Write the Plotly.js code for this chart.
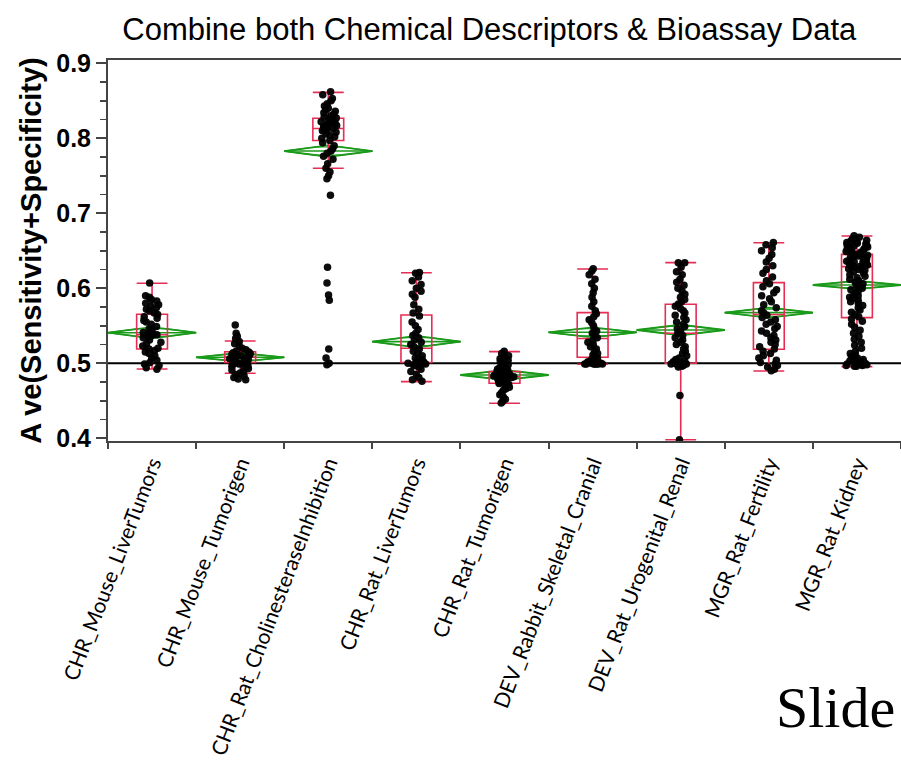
<!DOCTYPE html>
<html>
<head>
<meta charset="utf-8">
<script src="https://cdn.plot.ly/plotly-3.0.1.min.js"></script>
<style>html,body{margin:0;padding:0;background:#fff;}#chart{width:901px;height:768px;}</style>
</head>
<body>
<div id="chart"></div>
<script>
// ---- categories ----
var categories = ["CHR_Mouse_LiverTumors", "CHR_Mouse_Tumorigen", "CHR_Rat_CholinesteraseInhibition",
  "CHR_Rat_LiverTumors", "CHR_Rat_Tumorigen", "DEV_Rabbit_Skeletal_Cranial",
  "DEV_Rat_Urogenital_Renal", "MGR_Rat_Fertility", "MGR_Rat_Kidney"];

var chrMouseLiver = [0.607,0.590,0.588,0.585,0.583,0.580,0.578,0.576,0.574,0.572,0.570,0.567,0.565,0.562,0.560,0.557,0.555,0.552,0.549,0.546,0.543,0.541,0.540,0.539,0.538,0.537,0.536,0.534,0.531,0.528,0.526,0.523,0.520,0.519,0.517,0.515,0.513,0.510,0.507,0.504,0.501,0.499,0.497,0.494,0.492];
var chrMouseTumor = [0.551,0.540,0.536,0.533,0.529,0.526,0.523,0.520,0.518,0.516,0.515,0.514,0.513,0.512,0.511,0.510,0.509,0.508,0.507,0.506,0.505,0.504,0.503,0.502,0.501,0.500,0.499,0.498,0.497,0.496,0.495,0.493,0.491,0.489,0.487,0.485,0.483,0.481,0.479,0.478];
var chrRatChol = [0.862,0.858,0.853,0.850,0.846,0.843,0.840,0.838,0.836,0.834,0.832,0.830,0.829,0.828,0.827,0.826,0.825,0.824,0.823,0.822,0.821,0.820,0.819,0.818,0.817,0.816,0.815,0.814,0.813,0.812,0.811,0.810,0.808,0.806,0.804,0.802,0.800,0.797,0.794,0.790,0.786,0.783,0.780,0.776,0.772,0.766,0.760,0.755,0.750,0.746,0.724,0.628,0.607,0.591,0.584,0.519,0.507,0.500,0.498];
var chrRatLiver = [0.621,0.620,0.615,0.610,0.605,0.600,0.596,0.592,0.588,0.578,0.572,0.567,0.563,0.555,0.550,0.545,0.540,0.537,0.534,0.531,0.528,0.525,0.522,0.519,0.516,0.513,0.510,0.507,0.505,0.503,0.502,0.501,0.500,0.500,0.499,0.499,0.498,0.497,0.495,0.492,0.489,0.485,0.481,0.478,0.476];
var chrRatTumor = [0.516,0.513,0.510,0.508,0.506,0.504,0.502,0.500,0.498,0.496,0.495,0.494,0.493,0.492,0.491,0.490,0.489,0.488,0.487,0.486,0.486,0.485,0.485,0.484,0.484,0.483,0.483,0.482,0.482,0.481,0.481,0.480,0.479,0.478,0.477,0.476,0.475,0.474,0.473,0.472,0.470,0.468,0.466,0.464,0.461,0.458,0.455,0.452,0.449,0.447];
var devRabbit = [0.626,0.623,0.618,0.612,0.606,0.600,0.594,0.588,0.582,0.576,0.570,0.566,0.562,0.558,0.554,0.550,0.546,0.543,0.540,0.537,0.534,0.531,0.528,0.525,0.522,0.519,0.516,0.513,0.511,0.509,0.507,0.505,0.504,0.503,0.502,0.501,0.500,0.500,0.499,0.499,0.499,0.499,0.499,0.499,0.499];
var devRatUro = [0.634,0.634,0.628,0.622,0.618,0.612,0.608,0.604,0.600,0.596,0.592,0.588,0.585,0.582,0.579,0.576,0.573,0.570,0.567,0.564,0.561,0.558,0.555,0.552,0.549,0.546,0.543,0.540,0.537,0.534,0.531,0.528,0.525,0.522,0.519,0.516,0.513,0.510,0.507,0.505,0.503,0.502,0.501,0.500,0.500,0.499,0.499,0.498,0.498,0.497,0.497,0.496,0.495,0.457,0.398];
var mgrFertility = [0.661,0.658,0.654,0.650,0.645,0.640,0.635,0.630,0.625,0.620,0.615,0.610,0.606,0.602,0.598,0.594,0.590,0.586,0.582,0.578,0.574,0.570,0.567,0.564,0.561,0.558,0.555,0.552,0.549,0.546,0.543,0.540,0.537,0.534,0.531,0.528,0.525,0.522,0.519,0.516,0.513,0.510,0.507,0.504,0.501,0.499,0.497,0.495,0.492,0.490];
var mgrKidney = [0.670,0.668,0.666,0.665,0.664,0.663,0.662,0.661,0.660,0.659,0.658,0.657,0.656,0.655,0.654,0.653,0.652,0.651,0.650,0.649,0.648,0.647,0.646,0.645,0.644,0.643,0.642,0.641,0.640,0.639,0.638,0.637,0.636,0.635,0.634,0.633,0.632,0.631,0.630,0.629,0.628,0.627,0.626,0.625,0.624,0.622,0.620,0.618,0.616,0.614,0.612,0.610,0.608,0.606,0.604,0.602,0.600,0.598,0.596,0.594,0.592,0.590,0.588,0.586,0.584,0.582,0.580,0.577,0.574,0.571,0.568,0.565,0.562,0.559,0.556,0.552,0.548,0.544,0.540,0.536,0.532,0.528,0.524,0.520,0.516,0.513,0.511,0.509,0.507,0.506,0.505,0.504,0.503,0.502,0.501,0.500,0.500,0.499,0.499,0.498,0.498,0.497,0.497,0.496,0.496];

// ---- box summary (JMP quantile boxes) ----
var q1Vals     = [0.519, 0.501, 0.797, 0.501, 0.4733, 0.508, 0.500, 0.5187, 0.5609];
var medianVals = [0.538, 0.508, 0.813, 0.520, 0.482, 0.533, 0.540, 0.565, 0.6289];
var q3Vals     = [0.5653, 0.5155, 0.8267, 0.5644, 0.489, 0.5675, 0.5787, 0.6075, 0.6453];
var lowerWhisk = [0.4924, 0.4867, 0.760, 0.4756, 0.4467, 0.4987, 0.398, 0.4897, 0.4956];
var upperWhisk = [0.6067, 0.5297, 0.8613, 0.6208, 0.5156, 0.6257, 0.6342, 0.6608, 0.6697];

// ---- means diamonds: group mean and 95% CI half-width ----
var meanVals = [0.5408, 0.508, 0.783, 0.5289, 0.4844, 0.5413, 0.5444, 0.5675, 0.6044];
var ciHalf   = [0.0075, 0.0058, 0.0076, 0.0076, 0.0065, 0.0067, 0.0070, 0.0067, 0.0055];

var refLine = 0.5;

var groups = [chrMouseLiver, chrMouseTumor, chrRatChol, chrRatLiver, chrRatTumor, devRabbit, devRatUro, mgrFertility, mgrKidney];
var idx = categories.map(function(c, i){ return i; });

var RED = '#e62e55', GREEN = '#1a9a1a';

// quantile boxes (precomputed stats)
var boxTrace = {
  type: 'box', x: idx, q1: q1Vals, median: medianVals, q3: q3Vals,
  lowerfence: lowerWhisk, upperfence: upperWhisk,
  width: 0.35, whiskerwidth: 1, boxpoints: false,
  line: {color: RED, width: 1.6}, fillcolor: 'rgba(0,0,0,0)',
  hoverinfo: 'skip', showlegend: false
};

// jittered points
var px = [], py = [];
groups.forEach(function(g, i){ g.forEach(function(v){ px.push(i); py.push(v); }); });
var pointTrace = {
  type: 'box', x: px, y: py, boxpoints: 'all', jitter: 0.9, pointpos: 0,
  width: 0.28, line: {width: 0, color: 'rgba(0,0,0,0)'}, fillcolor: 'rgba(0,0,0,0)',
  marker: {color: '#000', size: 7.5, opacity: 0.95},
  hoverinfo: 'skip', showlegend: false
};

// diamonds as shapes below the marks
var shapes = [];
var ov = 1 / Math.SQRT2;
idx.forEach(function(i){
  var m = meanVals[i], h = ciHalf[i];
  shapes.push({type: 'path', xref: 'x', yref: 'y', layer: 'below',
    path: 'M' + (i - 0.5) + ',' + m + ' L' + i + ',' + (m + h) + ' L' + (i + 0.5) + ',' + m + ' L' + i + ',' + (m - h) + ' Z',
    line: {color: GREEN, width: 1.8}});
  shapes.push({type: 'line', xref: 'x', yref: 'y', layer: 'below', x0: i - 0.5, x1: i + 0.5, y0: m, y1: m,
    line: {color: GREEN, width: 1.6}});
  [1, -1].forEach(function(s){
    shapes.push({type: 'path', xref: 'x', yref: 'y', layer: 'below',
      path: 'M' + (i - 0.5) + ',' + m + ' L' + (i - 0.15) + ',' + (m + s * h * ov) + ' L' + (i + 0.15) + ',' + (m + s * h * ov) + ' L' + (i + 0.5) + ',' + m,
      line: {color: GREEN, width: 1.2}});
  });
});
shapes.push({type: 'line', xref: 'paper', yref: 'y', x0: 0, x1: 1, y0: refLine, y1: refLine, layer: 'below',
  line: {color: '#000', width: 2}});

var layout = {
  width: 901, height: 768,
  margin: {l: 108, r: 0, t: 60, b: 327},
  paper_bgcolor: '#fff', plot_bgcolor: '#fff',
  boxmode: 'overlay', showlegend: false,
  title: {text: 'Combine both Chemical Descriptors & Bioassay Data',
    font: {family: 'Liberation Sans, Arial, sans-serif', size: 31, color: '#000'},
    xref: 'container', x: 0.543, xanchor: 'center', yref: 'container', y: 0.962, yanchor: 'middle'},
  xaxis: {
    range: [-0.5, 8.5], tickmode: 'array', tickvals: idx, ticktext: categories,
    tickangle: -69, ticks: '', showgrid: false, zeroline: false,
    showline: true, mirror: true, linecolor: '#444', linewidth: 2,
    tickfont: {family: 'Lato, Carlito, sans-serif', size: 21, color: '#000'},
    minor: {tick0: 0.5, dtick: 1, ticks: 'outside', ticklen: 6, tickwidth: 2, tickcolor: '#444', showgrid: false}
  },
  yaxis: {
    range: [0.3964, 0.9044], tick0: 0.4, dtick: 0.1, tickformat: '.1f',
    ticks: 'outside', ticklen: 10, tickwidth: 2, tickcolor: '#444',
    showgrid: false, zeroline: false, showline: true, linecolor: '#444', linewidth: 2,
    tickfont: {family: 'Liberation Sans, Arial, sans-serif', size: 25, color: '#000', weight: 'bold'},
    minor: {dtick: 0.025, ticks: 'outside', ticklen: 6, tickwidth: 1.5, tickcolor: '#444', showgrid: false},
    title: {text: 'A ve(Sensitivity+Specificity)', standoff: 6,
      font: {family: 'Liberation Sans, Arial, sans-serif', size: 29, color: '#000', weight: 'bold'}}
  },
  shapes: shapes,
  annotations: [{text: 'Slide', xref: 'paper', yref: 'paper', x: (774 - 108) / 793, y: -0.70,
    xanchor: 'left', yanchor: 'middle', showarrow: false,
    font: {family: 'Liberation Serif, Times New Roman, serif', size: 58, color: '#000'}}]
};

Plotly.newPlot('chart', [boxTrace, pointTrace], layout, {staticPlot: true, displayModeBar: false});
</script>
</body>
</html>
